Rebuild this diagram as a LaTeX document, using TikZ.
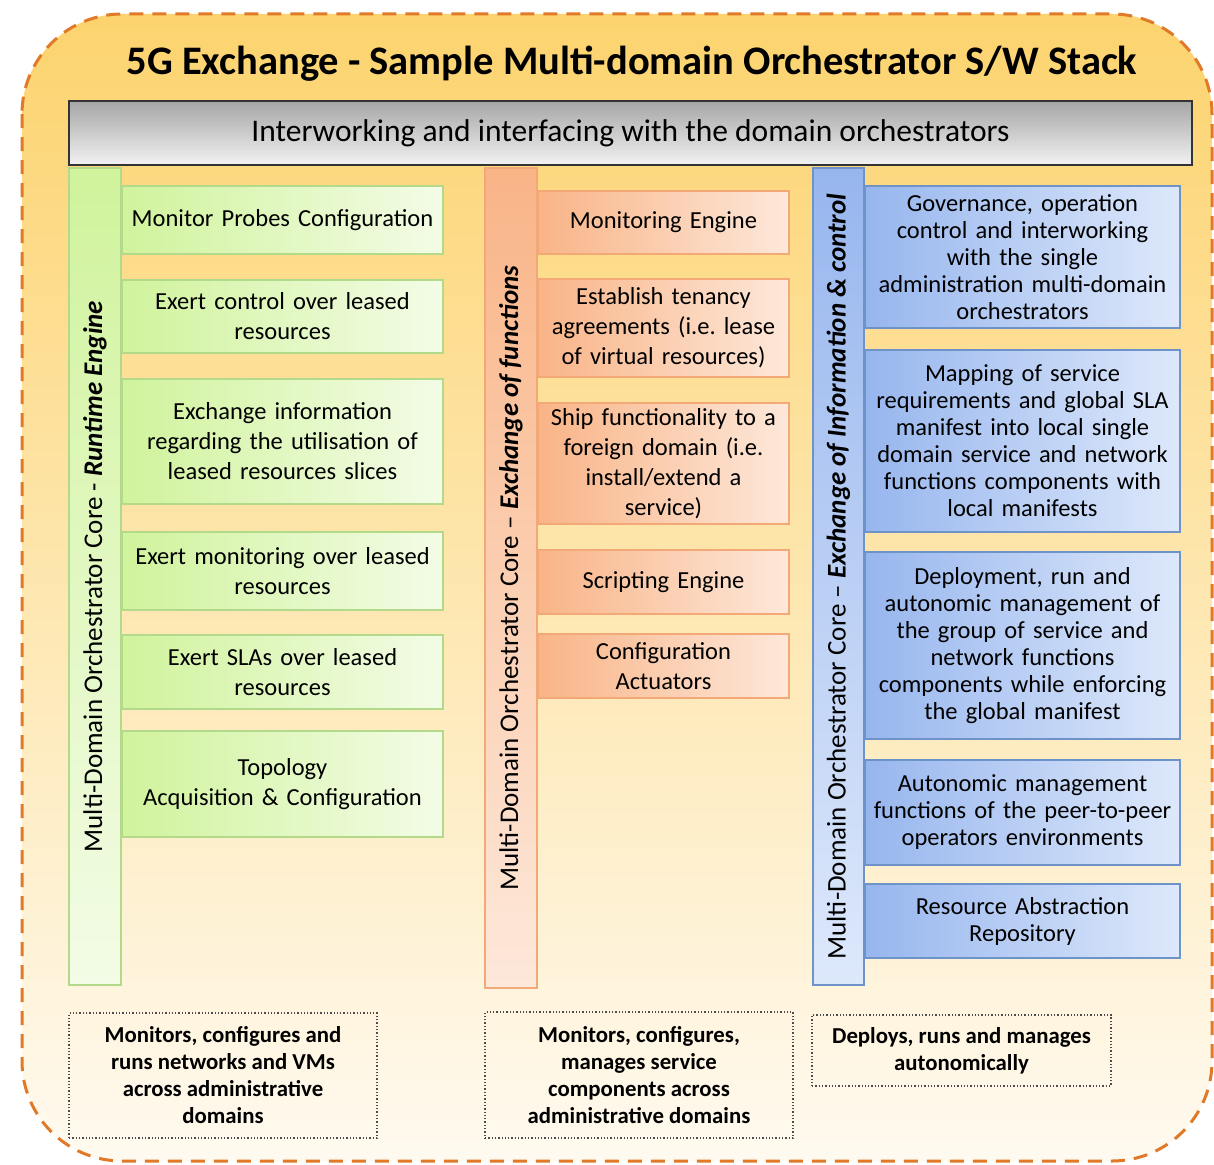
\documentclass[tikz,border=0pt]{standalone}
\usepackage{fontspec}
\setmainfont{Carlito}
\frenchspacing
\definecolor{framedash}{HTML}{E07A28}
\definecolor{frametop}{HTML}{FCD36E}
\definecolor{framebot}{HTML}{FFFAF0}
\definecolor{greendark}{HTML}{D0F39C}
\definecolor{greenlight}{HTML}{F3FCE6}
\definecolor{greenedge}{HTML}{B3D98A}
\definecolor{orangedark}{HTML}{F9B487}
\definecolor{orangelight}{HTML}{FDE8DA}
\definecolor{orangeedge}{HTML}{F2A877}
\definecolor{bluedark}{HTML}{97B6EE}
\definecolor{bluelight}{HTML}{DDE8FB}
\definecolor{blueedge}{HTML}{6E93C9}
\tikzset{
    boxtext/.style={align=center, inner sep=0pt, font=\fontsize{24.5}{30}\selectfont},
    greenbox/.style={boxtext, draw=greenedge, line width=1.2pt, left color=greendark, right color=greenlight, minimum width=321pt, text width=316pt},
    orangebox/.style={boxtext, draw=orangeedge, line width=1.2pt, left color=orangedark, right color=orangelight, minimum width=251pt, text width=248pt},
    bluebox/.style={boxtext, draw=blueedge, line width=1.2pt, left color=bluedark, right color=bluelight, minimum width=315pt, text width=312pt, font=\fontsize{24.5}{27}\selectfont},
    corebar/.style={boxtext, rotate=90, line width=1.2pt, minimum height=52pt, font=\fontsize{27}{30}\selectfont},
    notebox/.style={draw=black!70, dotted, line width=1.3pt, align=center, inner sep=0pt, font=\fontsize{22.8}{27}\selectfont\bfseries}
}
\begin{document}
\begin{tikzpicture}[x=1pt, y=-1pt]
\useasboundingbox (0,0) rectangle (1214,1164);
\draw[framedash, line width=3pt, dash pattern=on 14pt off 9pt, rounded corners=100pt, top color=frametop, bottom color=framebot]
    (22,14) rectangle (1212,1161);

\node[font=\fontsize{40.5}{44}\selectfont\bfseries] (title) at (632,64) {5G Exchange - Sample Multi-domain Orchestrator S/W Stack};
\node[draw=black!80, line width=1.5pt, top color=black!35, bottom color=black!5, minimum width=1123pt, minimum height=64pt, font=\fontsize{31.5}{34}\selectfont] (interface) at (630.5,133) {Interworking and interfacing with the domain orchestrators};

% core bars
\node[corebar, draw=greenedge, top color=greendark, bottom color=greenlight, minimum width=817pt] (runtime) at (95,576.5)
    {Multi-Domain Orchestrator Core - \textbf{\textit{Runtime Engine}}};
\node[corebar, draw=orangeedge, top color=orangedark, bottom color=orangelight, minimum width=820pt] (functions) at (511,578)
    {Multi-Domain Orchestrator Core -- \textbf{\textit{Exchange of functions}}};
\node[corebar, draw=blueedge, top color=bluedark, bottom color=bluelight, minimum width=817pt, minimum height=51pt] (information) at (838.5,576.5)
    {Multi-Domain Orchestrator Core -- \textbf{\textit{Exchange of Information \& control}}};

\foreach \n/\c/\h/\t in {g1/220/68/{Monitor Probes Configuration},
    g2/316.5/73/{Exert control over leased\\resources},
    g3/441.5/125/{Exchange information\\regarding the utilisation of\\leased resources slices},
    g4/571/78/{Exert monitoring over leased\\resources},
    g5/672/74/{Exert SLAs over leased\\resources},
    g6/784/106/{Topology\\Acquisition \& Configuration}}
{
    \node[greenbox, minimum height=\h pt] (\n) at (282.5,\c) {\t};
}

\foreach \n/\c/\h/\t in {o1/222.5/63/{Monitoring Engine},
    o2/328/98/{Establish tenancy\\agreements (i.e. lease\\of virtual resources)},
    o3/463.5/121/{Ship functionality to a\\foreign domain (i.e.\\install/extend a\\service)},
    o4/582/64/{Scripting Engine},
    o5/666/64/{Configuration\\Actuators}}
{
    \node[orangebox, minimum height=\h pt] (\n) at (663.5,\c) {\t};
}

\foreach \n/\c/\h/\t in {b1/257/142/{Governance, operation\\control and interworking\\with the single\\administration multi-domain\\orchestrators},
    b2/441/182/{Mapping of service\\requirements and global SLA\\manifest into local single\\domain service and network\\functions components with\\local manifests},
    b3/645.5/187/{Deployment, run and\\autonomic management of\\the group of service and\\network functions\\components while enforcing\\the global manifest},
    b4/812.5/105/{Autonomic management\\functions of the peer-to-peer\\operators environments},
    b5/921/74/{Resource Abstraction\\Repository}}
{
    \node[bluebox, minimum height=\h pt] (\n) at (1022.5,\c) {\t};
}

% notes below the bars
\node[notebox, minimum width=308pt, minimum height=125pt] (runnote) at (223,1075.5)
    {Monitors, configures and\\runs networks and VMs\\across administrative\\domains};
\node[notebox, minimum width=308pt, minimum height=126pt] (functionnote) at (639,1075)
    {Monitors, configures,\\manages service\\components across\\administrative domains};
\node[notebox, minimum width=299pt, minimum height=71pt] (infonote) at (961.5,1050.5)
    {Deploys, runs and manages\\autonomically};
\end{tikzpicture}
\end{document}
